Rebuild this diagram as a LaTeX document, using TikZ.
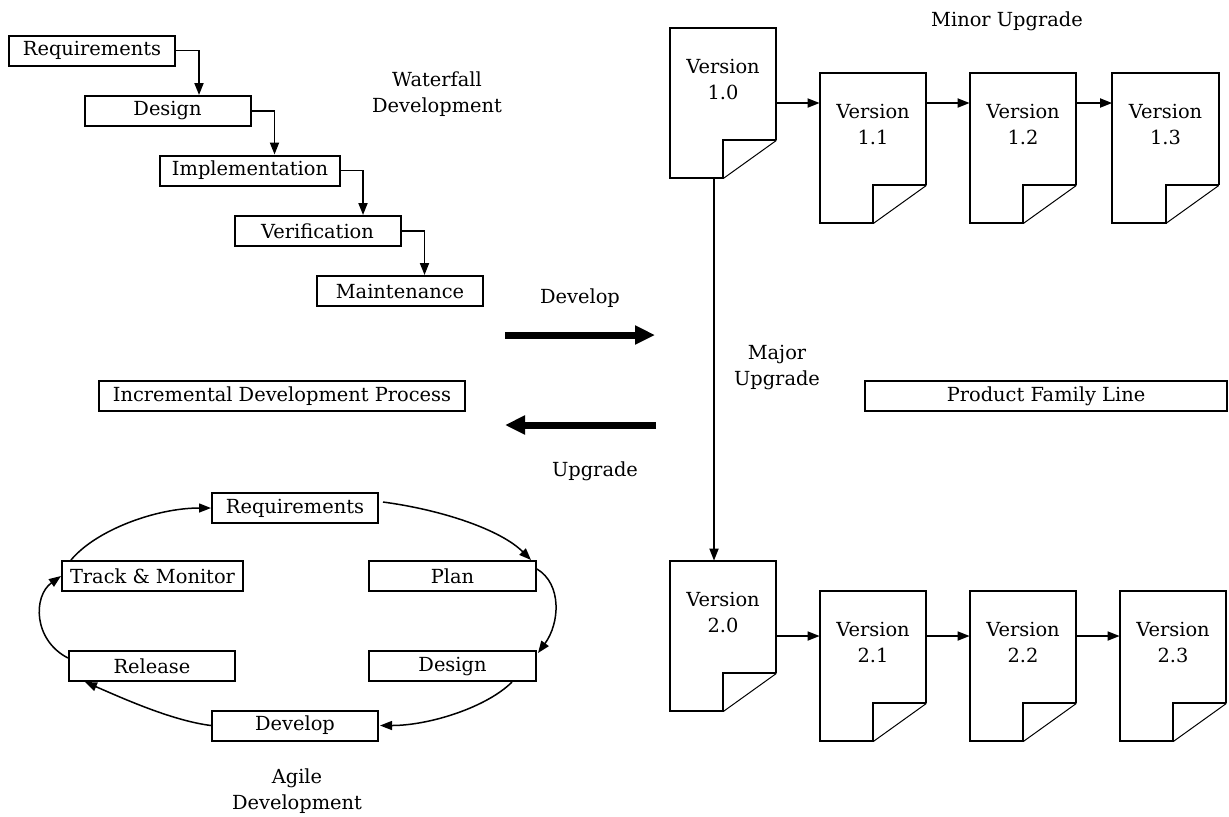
\documentclass[tikz,border=0pt]{standalone}
\usepackage{fontspec}
\setmainfont{DejaVu Serif}
\usetikzlibrary{arrows.meta,calc}

% A document page with a folded lower-right corner, holding a two-line label.
% #1 name, #2 x, #3 y of the page centre, #4 label
\newcommand\docpage[4]{%
  \node[pagebox] (#1) at (#2,#3) {};
  \node[pagetext] (#1t) at (#2,#3-23.5) {#4};
  \draw[pageline] ([yshift=19pt]#1.south east) -- (#1.north east)
     -- (#1.north west) -- (#1.south west) -- ([xshift=-26.5pt]#1.south east)
     -- ([xshift=-26.5pt,yshift=19pt]#1.south east) -- ([yshift=19pt]#1.south east);
  \draw[foldline] ([xshift=-26.5pt]#1.south east) -- ([yshift=19pt]#1.south east);
}

\begin{document}
\begin{tikzpicture}[x=0.5pt,y=-0.5pt,
  every node/.style={font=\fontsize{9.7}{13}\selectfont, inner sep=0pt},
  box/.style={draw, line width=1pt, minimum height=15pt, minimum width=83pt},
  lbl/.style={align=center},
  arr/.style={line width=0.9pt, -{Triangle[length=6pt,width=4.5pt]}},
  cyc/.style={line width=0.75pt, -{Triangle[length=6pt,width=4.5pt]}},
  bigarr/.style={line width=3.5pt, -{Triangle[length=10pt,width=9pt]}},
  pagebox/.style={minimum width=53pt, minimum height=75pt},
  pagetext/.style={align=center},
  pageline/.style={line width=1pt, line join=miter},
  foldline/.style={line width=0.5pt},
]
\useasboundingbox (0,0) rectangle (1229,816);

% ---------------- Waterfall development ----------------
\node[box] (wreq) at (92,50.5) {Requirements};
\node[box] (wdes) at (167.5,111) {Design};
\node[box, minimum width=90pt] (wimp) at (250,170.5) {Implementation};
\node[box] (wver) at (317.5,231) {Verification};
\node[box] (wmai) at (400,291) {Maintenance};
\node[lbl] (wlab) at (437,94) {Waterfall\\Development};

\draw[arr] (wreq.east) -- ++(23,0) coordinate (w1) -- (w1 |- wdes.north);
\draw[arr] (wdes.east) -- ++(23,0) coordinate (w2) -- (w2 |- wimp.north);
\draw[arr] (wimp.east) -- ++(22,0) coordinate (w3) -- (w3 |- wver.north);
\draw[arr] (wver.east) -- ++(23,0) coordinate (w4) -- (w4 |- wmai.north);

% ---------------- Middle ----------------
\node[box, minimum width=183pt] (incr) at (282,396) {Incremental Development Process};
\node (devlab) at (580,298) {Develop};
\node (uplab) at (595,471) {Upgrade};
\coordinate (da) at (505,335);
\coordinate (db) at (655,335);
\coordinate (ua) at (656,425);
\coordinate (ub) at (505,425);
\draw[bigarr] (da) -- (db);
\draw[bigarr] (ua) -- (ub);

% ---------------- Product family ----------------
\node (minor) at (1007,21) {Minor Upgrade};
\node[box, minimum width=181pt] (pfl) at (1046,396) {Product Family Line};
\node[lbl] (major) at (777,368) {Major\\Upgrade};

\docpage{v10}{723}{103}{Version\\1.0}
\docpage{v11}{873}{148}{Version\\1.1}
\docpage{v12}{1023}{148}{Version\\1.2}
\docpage{v13}{1165.5}{148}{Version\\1.3}
\docpage{v20}{723}{636}{Version\\2.0}
\docpage{v21}{873}{666}{Version\\2.1}
\docpage{v22}{1023}{666}{Version\\2.2}
\docpage{v23}{1173}{666}{Version\\2.3}

\draw[arr] (v10.east) -- (v10.east -| v11.west);
\draw[arr] (v11.east |- v10.east) -- (v12.west |- v10.east);
\draw[arr] (v12.east |- v10.east) -- (v13.west |- v10.east);
\draw[arr] (v20.east) -- (v20.east -| v21.west);
\draw[arr] (v21.east |- v20.east) -- (v22.west |- v20.east);
\draw[arr] (v22.east |- v20.east) -- (v23.west |- v20.east);
\draw[arr] ([xshift=-4.5pt]v10.south) -- ([xshift=-4.5pt]v20.north);

% ---------------- Agile development ----------------
\node[box] (areq) at (295,508) {Requirements};
\node[box, minimum width=83.5pt] (aplan) at (452.5,576) {Plan};
\node[box, minimum width=83.5pt] (ades) at (452.5,666) {Design};
\node[box] (adev) at (295,725.5) {Develop};
\node[box] (arel) at (152,666) {Release};
\node[box, minimum width=90.5pt] (atrack) at (152.5,576) {Track \& Monitor};
\node[lbl] (alab) at (297,791) {Agile\\Development};

\draw[cyc] ([xshift=2pt,yshift=3pt]areq.east) .. controls +(60,8) and +(-30,-30) .. ([xshift=-3pt]aplan.north east);
\draw[cyc] ([yshift=3.5pt]aplan.east) .. controls +(25,15) and +(22,-30) .. ([xshift=0.5pt,yshift=6.5pt]ades.east);
\draw[cyc] ([xshift=29.75pt]ades.south) .. controls +(-25,25) and +(50,0) .. ([xshift=0.5pt]adev.east);
\draw[cyc] (adev.west) .. controls +(-40,-5) and +(35,15) .. ([xshift=-33.5pt]arel.south);
\draw[cyc] ([yshift=4pt]arel.west) .. controls +(-35,-18) and +(-28,20) .. (atrack.west);
\draw[cyc] ([xshift=5pt]atrack.north west) .. controls +(25,-30) and +(-55,0) .. (areq.west);
\end{tikzpicture}
\end{document}
